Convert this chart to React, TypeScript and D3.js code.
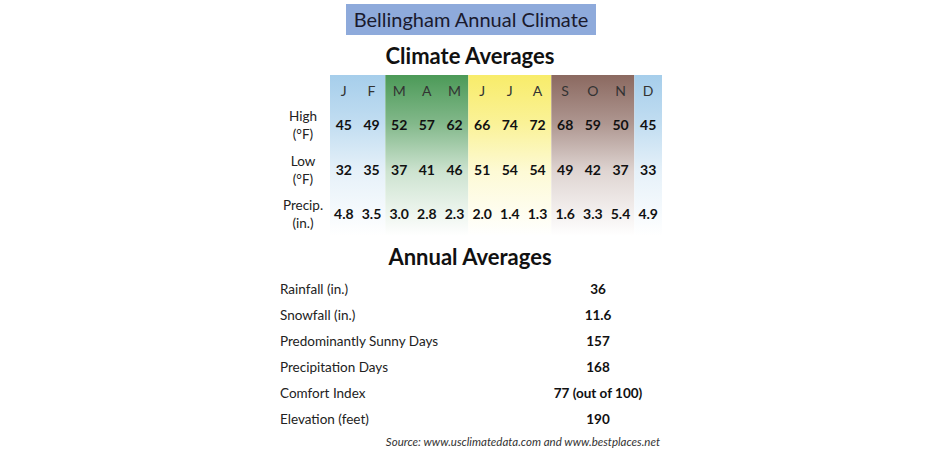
import React from "react";
import * as d3 from "d3";

const months = ["J", "F", "M", "A", "M", "J", "J", "A", "S", "O", "N", "D"];
const highs = [45, 49, 52, 57, 62, 66, 74, 72, 68, 59, 50, 45];
const lows = [32, 35, 37, 41, 46, 51, 54, 54, 49, 42, 37, 33];
const precip = ["4.8", "3.5", "3.0", "2.8", "2.3", "2.0", "1.4", "1.3", "1.6", "3.3", "5.4", "4.9"];
const rowLabels = [["High", "(°F)"], ["Low", "(°F)"], ["Precip.", "(in.)"]];
const seasonStarts = [0, 2, 5, 8, 11];
const seasonEnds = [2, 5, 8, 11, 12];
const seasonColors = ["#A6CEEB", "#4C9A58", "#F8EC6A", "#8B6960", "#A6CEEB"];
const annualLabels = ["Rainfall (in.)", "Snowfall (in.)", "Predominantly Sunny Days", "Precipitation Days", "Comfort Index", "Elevation (feet)"];
const annualValues = ["36", "11.6", "157", "168", "77 (out of 100)", "190"];

const FONT = "Lato, 'Open Sans', sans-serif";

export default function App() {
  const W = 940, H = 450;
  const x = d3.scaleBand<number>().domain(d3.range(12)).range([330, 662]).padding(0);
  const rowY = d3.scalePoint<number>().domain([0, 1, 2]).range([125, 214]);
  const annY = d3.scalePoint<number>().domain(d3.range(annualLabels.length)).range([289, 419]);
  const rows = [highs.map(String), lows.map(String), precip];
  const bandTop = 75, bandBottom = 236;
  return (
    <svg width={W} height={H} style={{ position: "absolute", left: 0, top: 0, background: "#fff" }} fontFamily={FONT}>
      <defs>
        {seasonColors.map((c, i) => (
          <linearGradient key={i} id={`g${i}`} x1="0" y1="0" x2="0" y2="1">
            <stop offset="0" stopColor={c} />
            <stop offset="0.3" stopColor={d3.interpolateRgb(c, "#fff")(0.3)} />
            <stop offset="0.6" stopColor={d3.interpolateRgb(c, "#fff")(0.72)} />
            <stop offset="1" stopColor="#fff" />
          </linearGradient>
        ))}
      </defs>
      <rect width={W} height={H} fill="#fff" />
      <rect x={346} y={4} width={250} height={31} fill="#8EAADB" />
      <text x={471} y={27} textAnchor="middle" fontSize={20} fill="#1a1a2e">Bellingham Annual Climate</text>
      <text x={470} y={64} textAnchor="middle" fontSize={22} fontWeight="bold" fill="#111">Climate Averages</text>
      {seasonStarts.map((s, i) => {
        const x0 = x(s)!;
        const x1 = seasonEnds[i] === 12 ? x.range()[1] : x(seasonEnds[i])!;
        return <rect key={i} x={x0} y={bandTop} width={x1 - x0} height={bandBottom - bandTop} fill={`url(#g${i})`} />;
      })}
      {months.map((m, i) => (
        <text key={i} x={x(i)! + x.bandwidth() / 2} y={96} textAnchor="middle" fontSize={14} fill="#333">{m}</text>
      ))}
      {rowLabels.map((lab, r) => (
        <g key={r}>
          <text x={303} y={rowY(r)! - 4} textAnchor="middle" fontSize={13.5} fill="#222">{lab[0]}</text>
          <text x={303} y={rowY(r)! + 14} textAnchor="middle" fontSize={13.5} fill="#222">{lab[1]}</text>
          {rows[r].map((v, i) => (
            <text key={i} x={x(i)! + x.bandwidth() / 2} y={rowY(r)! + 5} textAnchor="middle" fontSize={14} fontWeight="bold" fill="#111">{v}</text>
          ))}
        </g>
      ))}
      <text x={470} y={265} textAnchor="middle" fontSize={22} fontWeight="bold" fill="#111">Annual Averages</text>
      {annualLabels.map((l, i) => (
        <g key={i}>
          <text x={280} y={annY(i)! + 5} fontSize={13.5} fill="#222">{l}</text>
          <text x={598} y={annY(i)! + 5} textAnchor="middle" fontSize={13.5} fontWeight="bold" fill="#111">{annualValues[i]}</text>
        </g>
      ))}
      <text x={660} y={446} textAnchor="end" fontSize={11.5} fontStyle="italic" fill="#333">Source: www.usclimatedata.com and www.bestplaces.net</text>
    </svg>
  );
}
